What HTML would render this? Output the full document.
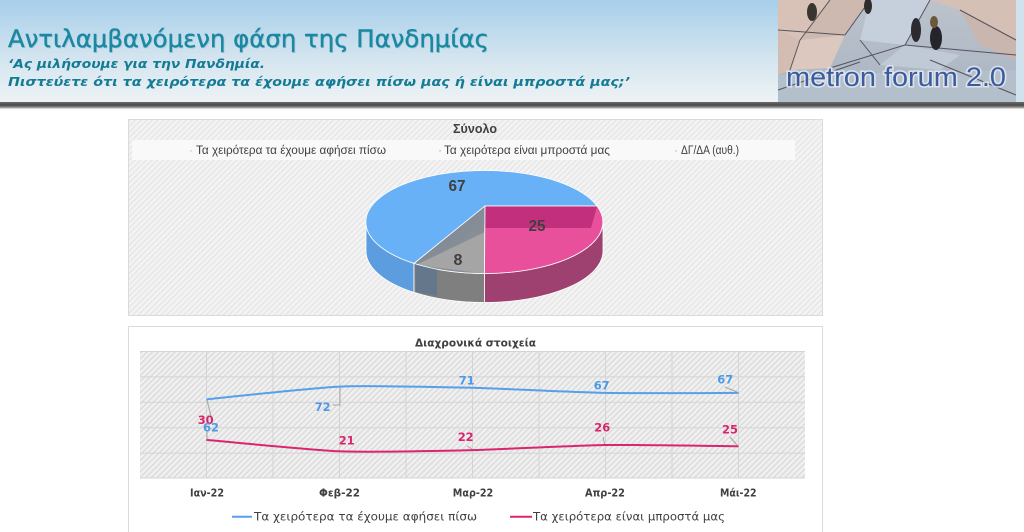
<!DOCTYPE html>
<html><head><meta charset="utf-8">
<style>
html,body{margin:0;padding:0;background:#fff;}
body{width:1024px;height:532px;overflow:hidden;}
svg{display:block;}
</style></head>
<body>
<svg width="1024" height="532" viewBox="0 0 1024 532" xmlns="http://www.w3.org/2000/svg">
<defs>
  <linearGradient id="hdr" x1="0" y1="0" x2="0" y2="1">
    <stop offset="0" stop-color="#a7cfea"/>
    <stop offset="0.55" stop-color="#d2e4ef"/>
    <stop offset="1" stop-color="#eef3f5"/>
  </linearGradient>
  <linearGradient id="shadow" x1="0" y1="0" x2="0" y2="1">
    <stop offset="0" stop-color="#6a6a6a"/>
    <stop offset="0.4" stop-color="#4a4a4a"/>
    <stop offset="0.7" stop-color="#9a9a9a"/>
    <stop offset="1" stop-color="#ffffff" stop-opacity="0"/>
  </linearGradient>
  <pattern id="hatch" width="4" height="4" patternUnits="userSpaceOnUse" patternTransform="rotate(45)">
    <rect width="4" height="4" fill="#f3f3f3"/>
    <rect width="1.2" height="4" fill="#e4e4e4"/>
  </pattern>
  <pattern id="hatch2" width="4" height="4" patternUnits="userSpaceOnUse" patternTransform="rotate(45)">
    <rect width="4" height="4" fill="#f0f0f0"/>
    <rect width="1.5" height="4" fill="#dcdcdc"/>
  </pattern>
  <linearGradient id="logobg" x1="0" y1="0" x2="0" y2="1">
    <stop offset="0" stop-color="#bcc3cc"/>
    <stop offset="1" stop-color="#a9b3c2"/>
  </linearGradient>
  <linearGradient id="graytop" x1="0" y1="0" x2="1" y2="1">
    <stop offset="0" stop-color="#7b8592"/>
    <stop offset="1" stop-color="#8d939b"/>
  </linearGradient>
</defs>

<!-- HEADER -->
<rect x="0" y="0" width="1024" height="103" fill="url(#hdr)"/>
<rect x="0" y="102" width="1024" height="8" fill="url(#shadow)"/>

<text x="8" y="47" font-family="DejaVu Sans, sans-serif" font-size="24" fill="#9cc0cf" textLength="481" lengthAdjust="spacingAndGlyphs" opacity="0.7" transform="translate(1,1)">Αντιλαμβανόμενη φάση της Πανδημίας</text>
<text x="8" y="47" font-family="DejaVu Sans, sans-serif" font-size="24" fill="#1a88a2" stroke="#1a88a2" stroke-width="0.4" textLength="481" lengthAdjust="spacingAndGlyphs">Αντιλαμβανόμενη φάση της Πανδημίας</text>
<text x="8" y="68" font-family="DejaVu Sans, sans-serif" font-size="12.5" font-weight="bold" font-style="italic" fill="#147b94" textLength="257" lengthAdjust="spacingAndGlyphs">‘Ας μιλήσουμε για την Πανδημία.</text>
<text x="8" y="86" font-family="DejaVu Sans, sans-serif" font-size="12.5" font-weight="bold" font-style="italic" fill="#147b94" textLength="622" lengthAdjust="spacingAndGlyphs">Πιστεύετε ότι τα χειρότερα τα έχουμε αφήσει πίσω μας ή είναι μπροστά μας;’</text>

<!-- LOGO -->
<g>
  <rect x="778" y="0" width="238" height="102" fill="url(#logobg)"/>
  <polygon points="778,0 830,0 800,40 778,30" fill="#d8c2b8"/>
  <polygon points="800,40 830,0 870,0 845,35" fill="#cdb9b0"/>
  <polygon points="778,30 800,40 790,70 778,75" fill="#d3bdb3"/>
  <polygon points="800,40 845,35 830,68 790,70" fill="#dcc8be"/>
  <polygon points="870,0 930,0 905,45 860,40" fill="#c6d0dc"/>
  <polygon points="930,0 1016,0 1016,40 960,10" fill="#d5c0b6"/>
  <polygon points="960,10 1016,40 1016,60 980,45" fill="#c9b6ae"/>
  <polygon points="905,45 960,55 940,70 880,65" fill="#c0cad6"/>
  <polygon points="778,75 1016,70 1016,102 778,102" fill="#b4bfcc"/>
  <g stroke="#3a3a44" stroke-width="1" fill="none" opacity="0.8">
    <line x1="778" y1="30" x2="845" y2="35"/>
    <line x1="800" y1="40" x2="830" y2="0"/>
    <line x1="845" y1="35" x2="870" y2="0"/>
    <line x1="790" y1="70" x2="800" y2="40"/>
    <line x1="830" y1="68" x2="905" y2="45"/>
    <line x1="905" y1="45" x2="930" y2="0"/>
    <line x1="905" y1="45" x2="1016" y2="55"/>
    <line x1="960" y1="10" x2="1016" y2="40"/>
    <line x1="860" y1="40" x2="880" y2="65"/>
    <line x1="778" y1="90" x2="860" y2="62"/>
    <line x1="930" y1="60" x2="1016" y2="95"/>
  </g>
  <ellipse cx="812" cy="12" rx="5" ry="9" fill="#3b3530"/>
  <ellipse cx="868" cy="6" rx="4" ry="8" fill="#2f2d2c"/>
  <ellipse cx="916" cy="30" rx="5" ry="12" fill="#2a2a30"/>
  <ellipse cx="936" cy="38" rx="6" ry="12" fill="#24242a"/>
  <ellipse cx="934" cy="22" rx="4" ry="6" fill="#6a5a3a"/>
  <rect x="1016" y="0" width="8" height="102" fill="#cfe2ee"/>
  <text x="786" y="86" font-family="Liberation Sans, sans-serif" font-size="27" fill="none" stroke="#e8eef4" stroke-width="3" stroke-opacity="0.8" textLength="220" lengthAdjust="spacingAndGlyphs">metron forum 2.0</text>
  <text x="786" y="86" font-family="Liberation Sans, sans-serif" font-size="27" fill="#3b5b9d" textLength="220" lengthAdjust="spacingAndGlyphs">metron forum 2.0</text>
</g>

<!-- PIE PANEL -->
<rect x="128.5" y="119.5" width="694" height="196" fill="url(#hatch)" stroke="#dadada"/>
<rect x="132" y="140" width="663" height="20" fill="#f9f9f9"/>
<text x="453" y="133" font-family="Liberation Sans, sans-serif" font-size="12.5" font-weight="bold" fill="#404040" textLength="44" lengthAdjust="spacingAndGlyphs">Σύνολο</text>
<g font-family="Liberation Sans, sans-serif" font-size="11.5" fill="#404040">
  <text x="189" y="154" fill="#9fbfe0" font-size="12">·</text>
  <text x="196" y="154" textLength="190" lengthAdjust="spacingAndGlyphs">Τα χειρότερα τα έχουμε αφήσει πίσω</text>
  <text x="438" y="154" fill="#e080b0" font-size="12">·</text>
  <text x="444" y="154" textLength="166" lengthAdjust="spacingAndGlyphs">Τα χειρότερα είναι μπροστά μας</text>
  <text x="674" y="154" fill="#aaaaaa" font-size="12">·</text>
  <text x="681" y="154" textLength="58" lengthAdjust="spacingAndGlyphs">ΔΓ/ΔΑ (αυθ.)</text>
</g>

<!-- pie sides -->
<path d="M366,222 A118.5,51.5 0 0 0 414,263.4 L414,292.4 A118.5,51.5 0 0 1 366,251 Z" fill="#5b9ddf" stroke="#ffffff" stroke-width="0.8"/>
<path d="M414,263.4 A118.5,51.5 0 0 0 484.5,273.5 L484.5,302.5 A118.5,51.5 0 0 1 414,292.4 Z" fill="#7f7f7f" stroke="#ffffff" stroke-width="0.8"/>
<polygon points="415,264 437,268 437,296 416,292" fill="#65778a"/>
<path d="M484.5,273.5 A118.5,51.5 0 0 0 603,222 L603,251 A118.5,51.5 0 0 1 484.5,302.5 Z" fill="#9e4170" stroke="#ffffff" stroke-width="0.8"/>

<!-- pie tops -->
<path d="M485,206 L414,263.4 A118.5,51.5 0 1 1 597,206 Z" fill="#69b1f6" stroke="#ffffff" stroke-width="0.8"/>
<path d="M485,206 L484.5,273.5 A118.5,51.5 0 0 1 414,263.4 Z" fill="url(#graytop)"/>
<polygon points="485,232 484.5,273.5 440,268 416,265" fill="#a5a5a5"/>
<path d="M485,206 L484.5,273.5 A118.5,51.5 0 0 1 414,263.4 Z" fill="none" stroke="#ffffff" stroke-width="0.8"/>
<path d="M485,206 L597,206 A118.5,51.5 0 0 1 484.5,273.5 Z" fill="#e9509b" stroke="#ffffff" stroke-width="0.8"/>
<polygon points="485.5,206.5 597,206.5 591,228 485.5,228" fill="#c22f7c"/>

<g font-family="Liberation Sans, sans-serif" font-size="16" font-weight="bold" fill="#404040" text-anchor="middle">
  <text x="457" y="191" textLength="17" lengthAdjust="spacingAndGlyphs">67</text>
  <text x="537" y="231" textLength="17" lengthAdjust="spacingAndGlyphs">25</text>
  <text x="458" y="265">8</text>
</g>

<!-- LINE PANEL -->
<rect x="128.5" y="326.5" width="694" height="220" fill="#ffffff" stroke="#dadada"/>
<text x="415" y="346.5" font-family="DejaVu Sans, sans-serif" font-size="11" font-weight="bold" fill="#404040" textLength="121" lengthAdjust="spacingAndGlyphs">Διαχρονικά στοιχεία</text>

<rect x="140" y="351" width="665" height="127" fill="url(#hatch2)"/>
<g stroke="#d4d4d4" stroke-width="1" fill="none">
  <line x1="140" y1="351.5" x2="805" y2="351.5"/>
  <line x1="140" y1="376.9" x2="805" y2="376.9"/>
  <line x1="140" y1="402.3" x2="805" y2="402.3"/>
  <line x1="140" y1="427.7" x2="805" y2="427.7"/>
  <line x1="140" y1="453.1" x2="805" y2="453.1"/>
  <line x1="140" y1="478" x2="805" y2="478"/>
  <line x1="206.5" y1="351" x2="206.5" y2="478"/>
  <line x1="273" y1="351" x2="273" y2="478"/>
  <line x1="339.5" y1="351" x2="339.5" y2="478"/>
  <line x1="406" y1="351" x2="406" y2="478"/>
  <line x1="472.5" y1="351" x2="472.5" y2="478"/>
  <line x1="539" y1="351" x2="539" y2="478"/>
  <line x1="605.5" y1="351" x2="605.5" y2="478"/>
  <line x1="672" y1="351" x2="672" y2="478"/>
  <line x1="738.5" y1="351" x2="738.5" y2="478"/>
</g>

<!-- leader lines -->
<g stroke="#a6a6a6" stroke-width="1" fill="none">
  <polyline points="207,400 211,416"/>
  <polyline points="207,431 207,439"/>
  <polyline points="340,387 340,405 333,405"/>
  <polyline points="467,446 472,449"/>
  <polyline points="603,437 604.5,444"/>
  <polyline points="725,387 737,392"/>
  <polyline points="730,437 737,445"/>
</g>

<!-- series -->
<path d="M206.5,399.3 C219.8,398.03 312.9,387.75 339.5,386.6 C366.1,385.45 445.9,387.17 472.5,387.8 C499.1,388.43 578.9,392.39 605.5,392.9 C632.1,393.41 725.2,392.9 738.5,392.9" fill="none" stroke="#55a0eb" stroke-width="2"/>
<path d="M206.5,439.9 C219.8,441.04 312.9,450.28 339.5,451.3 C366.1,452.32 445.9,450.73 472.5,450.1 C499.1,449.47 578.9,445.38 605.5,445 C632.1,444.62 725.2,446.17 738.5,446.3" fill="none" stroke="#d9266f" stroke-width="2"/>

<!-- data labels -->
<g font-family="DejaVu Sans, sans-serif" font-size="11.5" font-weight="bold" text-anchor="middle">
  <text x="205.7" y="424" fill="#d9266f" textLength="16" lengthAdjust="spacingAndGlyphs">30</text>
  <text x="211" y="431.5" fill="#4d9be6" textLength="16" lengthAdjust="spacingAndGlyphs">62</text>
  <text x="322.7" y="411" fill="#4d9be6" textLength="16" lengthAdjust="spacingAndGlyphs">72</text>
  <text x="466.7" y="384.5" fill="#4d9be6" textLength="16" lengthAdjust="spacingAndGlyphs">71</text>
  <text x="346.7" y="444.5" fill="#d9266f" textLength="16" lengthAdjust="spacingAndGlyphs">21</text>
  <text x="465.7" y="441" fill="#d9266f" textLength="16" lengthAdjust="spacingAndGlyphs">22</text>
  <text x="601.7" y="389.5" fill="#4d9be6" textLength="16" lengthAdjust="spacingAndGlyphs">67</text>
  <text x="725.3" y="383.5" fill="#4d9be6" textLength="16" lengthAdjust="spacingAndGlyphs">67</text>
  <text x="602.3" y="431.5" fill="#d9266f" textLength="16" lengthAdjust="spacingAndGlyphs">26</text>
  <text x="730" y="433.5" fill="#d9266f" textLength="16" lengthAdjust="spacingAndGlyphs">25</text>
</g>

<!-- category labels -->
<g font-family="DejaVu Sans, sans-serif" font-size="11" font-weight="bold" fill="#404040" text-anchor="middle">
  <text x="207" y="496.5" textLength="34" lengthAdjust="spacingAndGlyphs">Ιαν-22</text>
  <text x="339.5" y="496.5" textLength="41" lengthAdjust="spacingAndGlyphs">Φεβ-22</text>
  <text x="473" y="496.5" textLength="40.5" lengthAdjust="spacingAndGlyphs">Μαρ-22</text>
  <text x="605" y="496.5" textLength="40" lengthAdjust="spacingAndGlyphs">Απρ-22</text>
  <text x="738.3" y="496.5" textLength="36.5" lengthAdjust="spacingAndGlyphs">Μάι-22</text>
</g>

<!-- legend -->
<line x1="232" y1="516.7" x2="252" y2="516.7" stroke="#55a0eb" stroke-width="2"/>
<text x="254" y="520.5" font-family="DejaVu Sans, sans-serif" font-size="11.5" fill="#404040" textLength="223" lengthAdjust="spacingAndGlyphs">Τα χειρότερα τα έχουμε αφήσει πίσω</text>
<line x1="510" y1="516.7" x2="532" y2="516.7" stroke="#d9266f" stroke-width="2"/>
<text x="533" y="520.5" font-family="DejaVu Sans, sans-serif" font-size="11.5" fill="#404040" textLength="192" lengthAdjust="spacingAndGlyphs">Τα χειρότερα είναι μπροστά μας</text>
</svg>
</body></html>
